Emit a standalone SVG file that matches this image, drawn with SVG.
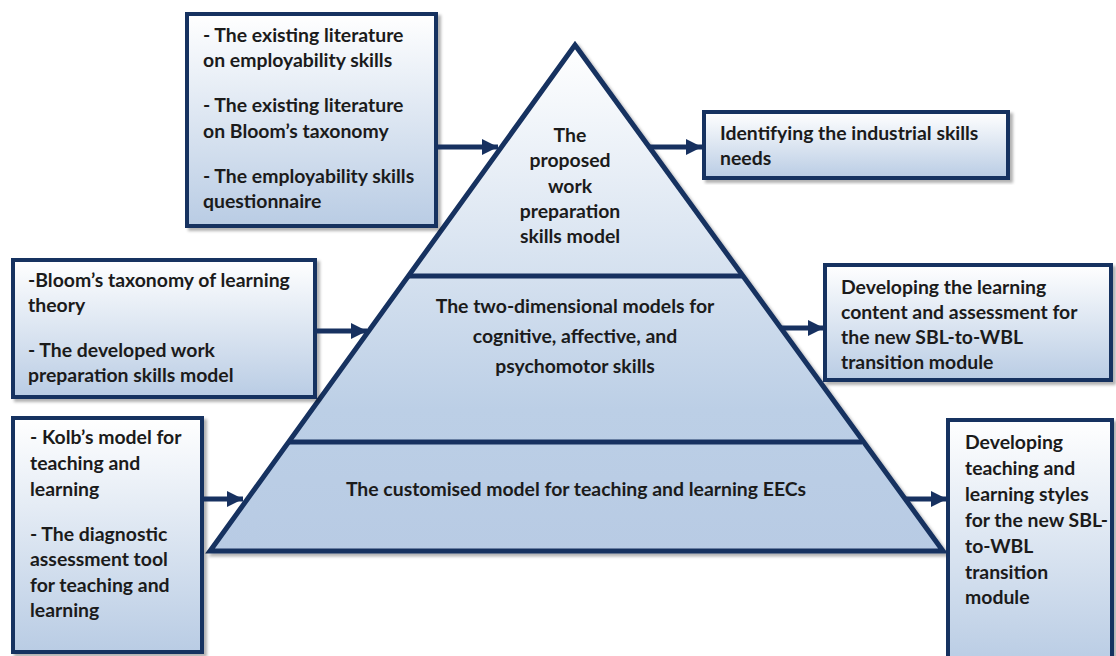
<svg xmlns="http://www.w3.org/2000/svg" width="1116" height="656" viewBox="0 0 1116 656">
  <defs>
    <linearGradient id="boxFill" x1="0" y1="0" x2="0" y2="1">
      <stop offset="0" stop-color="#ffffff"/>
      <stop offset="1" stop-color="#b9cce4"/>
    </linearGradient>
    <linearGradient id="pyrFill" gradientUnits="userSpaceOnUse" x1="0" y1="45" x2="0" y2="551">
      <stop offset="0" stop-color="#ffffff"/>
      <stop offset="0.72" stop-color="#bccfe6"/>
      <stop offset="1" stop-color="#b8cbe4"/>
    </linearGradient>
    <filter id="shadow" x="-10%" y="-10%" width="120%" height="120%">
      <feDropShadow dx="3" dy="3" stdDeviation="1.5" flood-color="#000000" flood-opacity="0.3"/>
    </filter>
    <marker id="arrow" viewBox="0 0 10 10" refX="10" refY="5" markerWidth="3.2" markerHeight="3.2" orient="auto" markerUnits="strokeWidth">
      <path d="M0,0 L10,5 L0,10 Z" fill="#173160"/>
    </marker>
    <style>
      .box { fill: url(#boxFill); stroke: #173160; stroke-width: 4; filter: url(#shadow); }
      .pyr { fill: url(#pyrFill); stroke: #173160; stroke-width: 5; stroke-linejoin: miter; filter: url(#shadow); }
      .tier { stroke: #173160; stroke-width: 5; fill: none; }
      .conn { stroke: #173160; stroke-width: 5; fill: none; }
      text { font-family: Lato, "Open Sans", sans-serif; font-weight: bold; font-size: 19.4px; fill: #1b1b1b; }
      .c { text-anchor: middle; }
    </style>
  </defs>

  <!-- pyramid -->
  <g id="pyramid">
    <path class="pyr" d="M575,45 L943,551 L210,551 Z"/>
    <line class="tier" x1="409" y1="276" x2="742" y2="276"/>
    <line class="tier" x1="289" y1="442" x2="862" y2="442"/>
  </g>

  <g id="tier-top">
    <text class="c" x="570" y="142">The</text>
    <text class="c" x="570" y="167">proposed</text>
    <text class="c" x="570" y="193">work</text>
    <text class="c" x="570" y="218">preparation</text>
    <text class="c" x="570" y="243">skills model</text>
  </g>

  <g id="tier-middle">
    <text class="c" x="575" y="313">The two-dimensional models for</text>
    <text class="c" x="575" y="343">cognitive, affective, and</text>
    <text class="c" x="575" y="373">psychomotor skills</text>
  </g>

  <g id="tier-bottom">
    <text class="c" x="576" y="496">The customised model for teaching and learning EECs</text>
  </g>

  <!-- input boxes -->
  <g id="input-literature">
    <rect class="box" x="187" y="14" width="249" height="212"/>
    <text x="203" y="42">- The existing literature</text>
    <text x="203" y="67">on employability skills</text>
    <text x="203" y="112">- The existing literature</text>
    <text x="203" y="138">on Bloom’s taxonomy</text>
    <text x="203" y="183">- The employability skills</text>
    <text x="203" y="208">questionnaire</text>
  </g>

  <g id="input-bloom">
    <rect class="box" x="13" y="260" width="302" height="137"/>
    <text x="28" y="287">-Bloom’s taxonomy of learning</text>
    <text x="28" y="312">theory</text>
    <text x="28" y="357">- The developed work</text>
    <text x="28" y="382">preparation skills model</text>
  </g>

  <g id="input-kolb">
    <rect class="box" x="13" y="418" width="189" height="234"/>
    <text x="30" y="444">- Kolb’s model for</text>
    <text x="30" y="470">teaching and</text>
    <text x="30" y="496">learning</text>
    <text x="30" y="541">- The diagnostic</text>
    <text x="30" y="566">assessment tool</text>
    <text x="30" y="592">for teaching and</text>
    <text x="30" y="617">learning</text>
  </g>

  <!-- output boxes -->
  <g id="output-industrial">
    <rect class="box" x="704" y="112" width="304" height="66"/>
    <text x="720" y="140">Identifying the industrial skills</text>
    <text x="720" y="165">needs</text>
  </g>

  <g id="output-content">
    <rect class="box" x="825" y="265" width="286" height="115"/>
    <text x="841" y="294">Developing the learning</text>
    <text x="841" y="319">content and assessment for</text>
    <text x="841" y="344">the new SBL-to-WBL</text>
    <text x="841" y="369">transition module</text>
  </g>

  <g id="output-styles">
    <rect class="box" x="948" y="420" width="164" height="245"/>
    <text x="965" y="449">Developing</text>
    <text x="965" y="475">teaching and</text>
    <text x="965" y="501">learning styles</text>
    <text x="965" y="527">for the new SBL-</text>
    <text x="965" y="553">to-WBL</text>
    <text x="965" y="579">transition</text>
    <text x="965" y="604">module</text>
  </g>

  <!-- connectors -->
  <g id="connectors">
    <line class="conn" x1="437" y1="147" x2="498" y2="147" marker-end="url(#arrow)"/>
    <line class="conn" x1="650" y1="147" x2="702" y2="147" marker-end="url(#arrow)"/>
    <line class="conn" x1="316" y1="331" x2="367" y2="331" marker-end="url(#arrow)"/>
    <line class="conn" x1="781" y1="328" x2="824" y2="328" marker-end="url(#arrow)"/>
    <line class="conn" x1="203" y1="499" x2="243" y2="499" marker-end="url(#arrow)"/>
    <line class="conn" x1="904" y1="499" x2="947" y2="499" marker-end="url(#arrow)"/>
  </g>
</svg>
